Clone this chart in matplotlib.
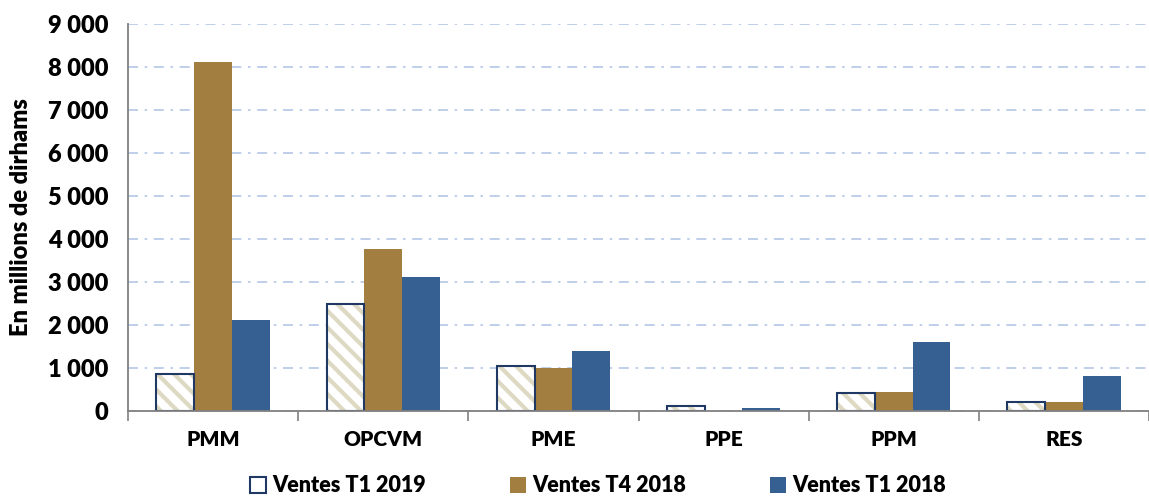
import matplotlib
matplotlib.use("Agg")
import matplotlib.pyplot as plt
import matplotlib.patches as mpatches
import numpy as np

categories = ["PMM", "OPCVM", "PME", "PPE", "PPM", "RES"]
ventes_t1_2019 = [860, 2500, 1050, 110, 410, 200]
ventes_t4_2018 = [8120, 3770, 1000, 10, 450, 200]
ventes_t1_2018 = [2110, 3110, 1390, 70, 1600, 810]
series_labels = ["Ventes T1 2019", "Ventes T4 2018", "Ventes T1 2018"]
yticks = list(range(0, 9001, 1000))
ytick_labels = ["0" if v == 0 else f"{v // 1000} 000" for v in yticks]

GOLD = "#A27F40"
BLUE = "#366092"
NAVY = "#1F3864"
BEIGE = "#DDD9C3"
WEIGHT = "heavy"

plt.rcParams["font.family"] = ["Lato", "DejaVu Sans"]
plt.rcParams["font.weight"] = WEIGHT
plt.rcParams["hatch.linewidth"] = 3.0

fig = plt.figure(figsize=(11.49, 4.97), dpi=100)
ax = fig.add_axes([128 / 1149, 1 - 411 / 497, 1 - 128 / 1149, (411 - 24) / 497])

x = np.arange(len(categories))
w = 0.222

ax.bar(x - w, ventes_t1_2019, w, facecolor="white", edgecolor=BEIGE, hatch="\\\\", linewidth=0, zorder=3)
ax.bar(x - w, ventes_t1_2019, w, fill=False, edgecolor=NAVY, linewidth=1.5, zorder=4)
ax.bar(x, ventes_t4_2018, w, color=GOLD, zorder=3)
ax.bar(x + w, ventes_t1_2018, w, color=BLUE, zorder=3)

ax.set_xlim(-0.5, len(categories) - 0.5)
ax.set_ylim(0, 9000)
ax.set_yticks(yticks)
ax.set_yticklabels(ytick_labels, fontsize=17, fontweight=WEIGHT)
ax.tick_params(axis="y", length=0, pad=14)

ax.set_xticks(x)
ax.set_xticklabels(categories, fontsize=15, fontweight=WEIGHT)
ax.tick_params(axis="x", which="major", length=0, pad=14)
ax.set_xticks(np.arange(-0.5, len(categories) - 0.4, 1), minor=True)
ax.tick_params(axis="x", which="minor", length=7, width=1.2, color="#808080")

ax.yaxis.grid(True, color="#B4C7E7", linestyle=(0, (6, 4, 1.5, 4)), linewidth=1.2, zorder=0)
ax.set_axisbelow(True)
for s in ["top", "right"]:
    ax.spines[s].set_visible(False)
for s in ["left", "bottom"]:
    ax.spines[s].set_color("#808080")
    ax.spines[s].set_linewidth(1.3)
ax.spines["bottom"].set_zorder(5)

ax.set_ylabel("En millions de dirhams", fontsize=17, fontweight=WEIGHT)
ax.yaxis.set_label_coords(-0.094, 0.5)

h1 = mpatches.Patch(facecolor="white", edgecolor=NAVY, linewidth=1.5)
h2 = mpatches.Patch(facecolor=GOLD)
h3 = mpatches.Patch(facecolor=BLUE)
leg = fig.legend([h1, h2, h3], series_labels, loc="center", bbox_to_anchor=(598 / 1149, 1 - 486 / 497),
                 ncol=3, frameon=False, handlelength=0.75, handleheight=0.75,
                 handletextpad=0.3, columnspacing=3.9, prop={"weight": WEIGHT, "size": 15.5})

fig.savefig("out.png", dpi=100)
